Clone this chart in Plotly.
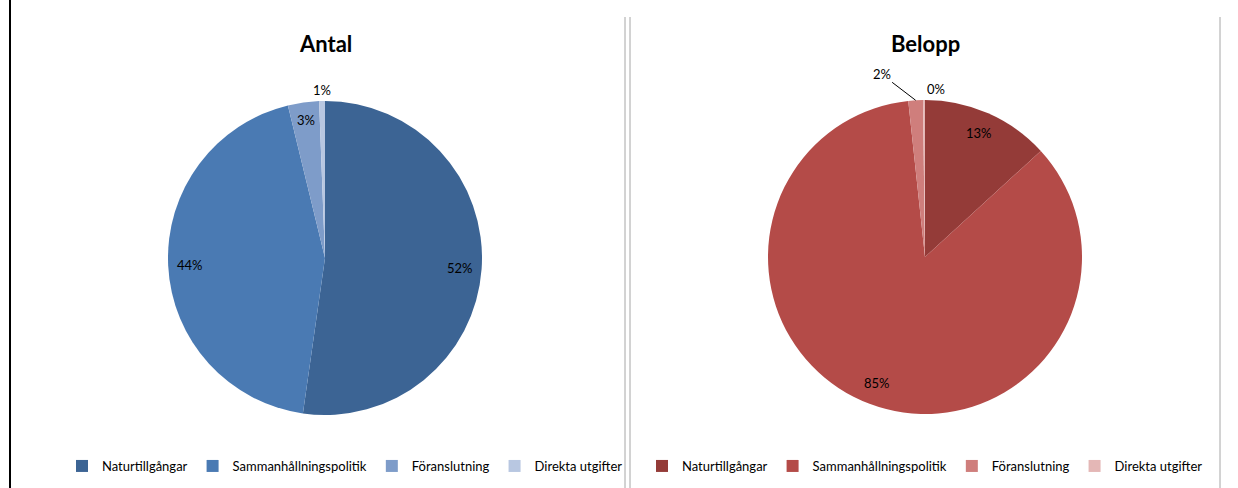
import math
import plotly.graph_objects as go

# ---------------- data ----------------
categories = ["Naturtillgångar", "Sammanhållningspolitik", "Föranslutning", "Direkta utgifter"]
antal_values = [52.3, 44.0, 3.2, 0.6]
belopp_values = [13.2, 85.1, 1.5, 0.2]
chart_titles = ["Antal", "Belopp"]

antal_colors = ["#3C6494", "#4A7AB3", "#7E9CC9", "#B8C7E1"]
belopp_colors = ["#943B38", "#B44B48", "#CF7E7C", "#E4B7B6"]

# label placement style per slice: in = inside, out = just outside, call = outside with leader line
antal_place = ["in", "in", "in", "out"]
belopp_place = ["in", "in", "call", "out"]

W, H = 1238, 488
R = 157
centers = [(325, 258), (925, 257)]
FONT = "Lato, Liberation Sans, sans-serif"

fig = go.Figure()


def dom(cx, cy):
    return dict(x=[(cx - R) / W, (cx + R) / W], y=[1 - (cy + R) / H, 1 - (cy - R) / H])


for i, (vals, cols, lg) in enumerate([(antal_values, antal_colors, "legend"),
                                       (belopp_values, belopp_colors, "legend2")]):
    cx, cy = centers[i]
    fig.add_trace(go.Pie(
        labels=categories, values=vals, sort=False, direction="clockwise", rotation=0,
        marker=dict(colors=cols, line=dict(width=0)),
        textinfo="none", hoverinfo="label+percent",
        domain=dom(cx, cy), legend=lg, legendgroup=f"g{i}", showlegend=True,
    ))

annotations = []
for i, (vals, places) in enumerate([(antal_values, antal_place), (belopp_values, belopp_place)]):
    cx, cy = centers[i]
    total = sum(vals)
    cum = 0.0
    for v, p in zip(vals, places):
        th = 2 * math.pi * (cum + v / 2) / total
        cum += v
        share = v / total
        pct = f"{int(share * 100 + 0.5)}%"
        if p == "in":
            r = (0.86 if share > 0.1 else 0.89) * R
        elif p == "out":
            r = 1.07 * R
        else:
            r = 1.0 * R
        px = cx + r * math.sin(th)
        py = cy - r * math.cos(th)
        a = dict(x=px / W, y=1 - py / H, xref="paper", yref="paper", text=pct,
                 xanchor="center", yanchor="middle",
                 font=dict(family=FONT, size=13, color="#000000"))
        if p == "call":
            a.update(showarrow=True, arrowhead=0, arrowwidth=1, arrowcolor="#000000",
                     ax=-34, ay=-26, standoff=0, startstandoff=0)
        else:
            a.update(showarrow=False)
            if p == "out" and i == 1:
                a.update(xshift=12)
        annotations.append(a)

# titles
for i, t in enumerate(chart_titles):
    cx, _ = centers[i]
    annotations.append(dict(x=cx / W, y=1 - 44 / H, xref="paper", yref="paper", text=f"<b>{t}</b>",
                            xanchor="center", yanchor="middle",
                            showarrow=False, font=dict(family=FONT, size=22, color="#000000")))

shapes = [
    dict(type="line", xref="paper", yref="paper", x0=10 / W, x1=10 / W, y0=0, y1=1,
         line=dict(color="#000000", width=2)),
    dict(type="line", xref="paper", yref="paper", x0=625 / W, x1=625 / W, y0=0, y1=1 - 17 / H,
         line=dict(color="#A6A6A6", width=1)),
    dict(type="line", xref="paper", yref="paper", x0=630 / W, x1=630 / W, y0=0, y1=1 - 17 / H,
         line=dict(color="#A6A6A6", width=1)),
    dict(type="line", xref="paper", yref="paper", x0=1220 / W, x1=1220 / W, y0=0, y1=1 - 17 / H,
         line=dict(color="#A6A6A6", width=1)),
]

leg_common = dict(orientation="h", xanchor="center", yanchor="middle", y=1 - 466 / H,
                  font=dict(family=FONT, size=13, color="#000000"), bgcolor="rgba(0,0,0,0)",
                  itemwidth=30, traceorder="normal")

fig.update_layout(
    width=W, height=H, margin=dict(l=0, r=0, t=0, b=0),
    paper_bgcolor="#FFFFFF", plot_bgcolor="#FFFFFF",
    annotations=annotations, shapes=shapes,
    legend=dict(x=345 / W, **leg_common),
    legend2=dict(x=925 / W, **leg_common),
)

fig.write_html("out.html", config={"displayModeBar": False},
               post_script="document.body.style.margin='0px';")
